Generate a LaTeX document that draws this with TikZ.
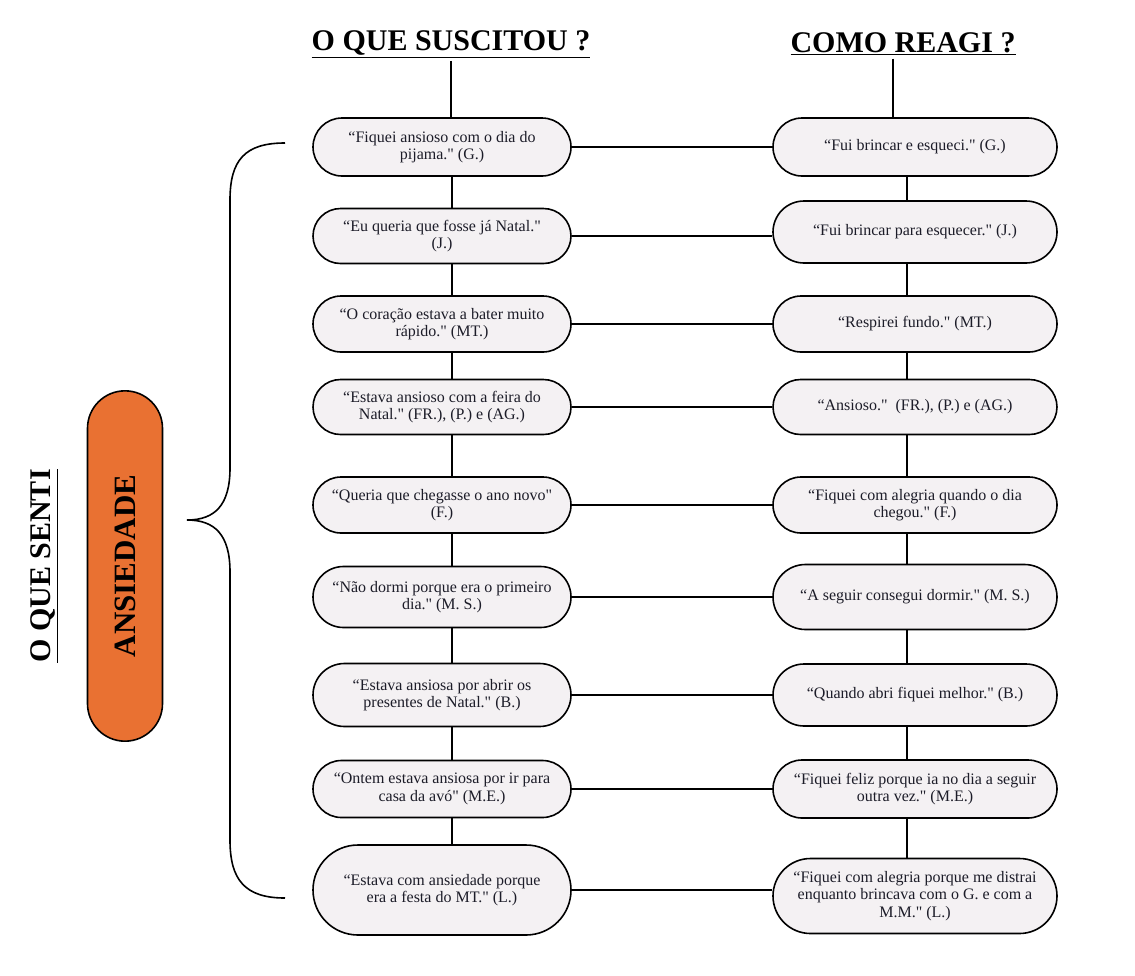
\documentclass[tikz,border=0pt]{standalone}
\usepackage{fontspec}
\setmainfont{Liberation Serif}[Ligatures=TeXOff]
\usetikzlibrary{shapes.misc}
\definecolor{boxfill}{HTML}{F4F1F3}
\definecolor{feelorange}{HTML}{E97132}
\definecolor{ink}{HTML}{1C1C28}
\begin{document}
\begin{tikzpicture}[x=1pt,y=-1pt,
  quote/.style={rounded rectangle,draw,line width=1.6pt,fill=boxfill,text=ink,align=center,
    inner xsep=2pt,font=\fontsize{16}{17.5}\selectfont},
  cause/.style={quote,minimum width=262pt},
  answer/.style={quote,minimum width=288pt},
  heading/.style={font=\bfseries\fontsize{30}{34}\selectfont},
  link/.style={line width=1.4pt}]
\useasboundingbox (0,0) rectangle (1135,975);
% Headings
\node[heading] (cause-title) at (451,44) {\underline{O QUE SUSCITOU ?}};
\node[heading] (answer-title) at (903,44) {\underline{COMO REAGI ?}};
\node[heading,rotate=90] (feel-title) at (44,566) {\underline{O QUE SENTI}};
% Feeling
\node[rounded rectangle,draw,line width=1.6pt,fill=feelorange,rotate=90,minimum width=357pt,minimum height=75pt,
  font=\bfseries\fontsize{31}{34}\selectfont] (feel) at (125,566) {ANSIEDADE};
\draw[line width=1.6pt] (285,143) .. controls (245,143) and (230,160) .. (230,200) -- (230,468)
  .. controls (230,505) and (215,520) .. (187,520) .. controls (215,520) and (230,535) .. (230,572)
  -- (230,840) .. controls (230,880) and (245,898) .. (285,898);
% What caused it
\node[cause,minimum height=58pt] (c1) at (442,147) {“Fiquei ansioso com o dia do\\pijama." (G.)};
\node[cause,minimum height=55pt] (c2) at (442,236) {“Eu queria que fosse já Natal."\\(J.)};
\node[cause,minimum height=56pt] (c3) at (442,324) {“O coração estava a bater muito\\rápido." (MT.)};
\node[cause,minimum height=55pt] (c4) at (442,407) {“Estava ansioso com a feira do\\Natal." (FR.), (P.) e (AG.)};
\node[cause,minimum height=56pt] (c5) at (442,505) {“Queria que chegasse o ano novo"\\(F.)};
\node[cause,minimum height=61pt] (c6) at (442,597) {“Não dormi porque era o primeiro\\dia." (M. S.)};
\node[cause,minimum height=63pt] (c7) at (442,695) {“Estava ansiosa por abrir os\\presentes de Natal." (B.)};
\node[cause,minimum height=57pt] (c8) at (442,789) {“Ontem estava ansiosa por ir para\\casa da avó" (M.E.)};
\node[cause,minimum height=90pt] (c9) at (442,890) {“Estava com ansiedade porque\\era a festa do MT." (L.)};
% How I reacted
\node[answer,minimum height=58pt] (a1) at (915,147) {“Fui brincar e esqueci." (G.)};
\node[answer,minimum height=62pt] (a2) at (915,232) {“Fui brincar para esquecer." (J.)};
\node[answer,minimum height=56pt] (a3) at (915,324) {“Respirei fundo." (MT.)};
\node[answer,minimum height=55pt] (a4) at (915,407) {“Ansioso."\ \ (FR.), (P.) e (AG.)};
\node[answer,minimum height=56pt] (a5) at (915,505) {“Fiquei com alegria quando o dia\\chegou." (F.)};
\node[answer,minimum height=65pt] (a6) at (915,597) {“A seguir consegui dormir." (M. S.)};
\node[answer,minimum height=62pt] (a7) at (915,695) {“Quando abri fiquei melhor." (B.)};
\node[answer,minimum height=58pt] (a8) at (915,789) {“Fiquei feliz porque ia no dia a seguir\\outra vez." (M.E.)};
\node[answer,minimum height=75pt] (a9) at (915,896) {“Fiquei com alegria porque me distrai\\enquanto brincava com o G. e com a\\M.M." (L.)};
% Connectors
\draw[link] (cause-title) -- (cause-title |- c1.north);
\draw[link] ([xshift=-10pt]answer-title.south) -- ([xshift=-10pt]answer-title.south |- a1.north);
\foreach \i/\j in {1/2,2/3,3/4,4/5,5/6,6/7,7/8,8/9} {
  \draw[link] ([xshift=10pt]c\i.south) -- ([xshift=10pt]c\j.north);
  \draw[link] ([xshift=-8pt]a\i.south) -- ([xshift=-8pt]a\j.north);
}
\foreach \i in {1,...,9}
  \draw[link] (c\i.east) -- (c\i.east -| a\i.west);
\end{tikzpicture}
\end{document}
